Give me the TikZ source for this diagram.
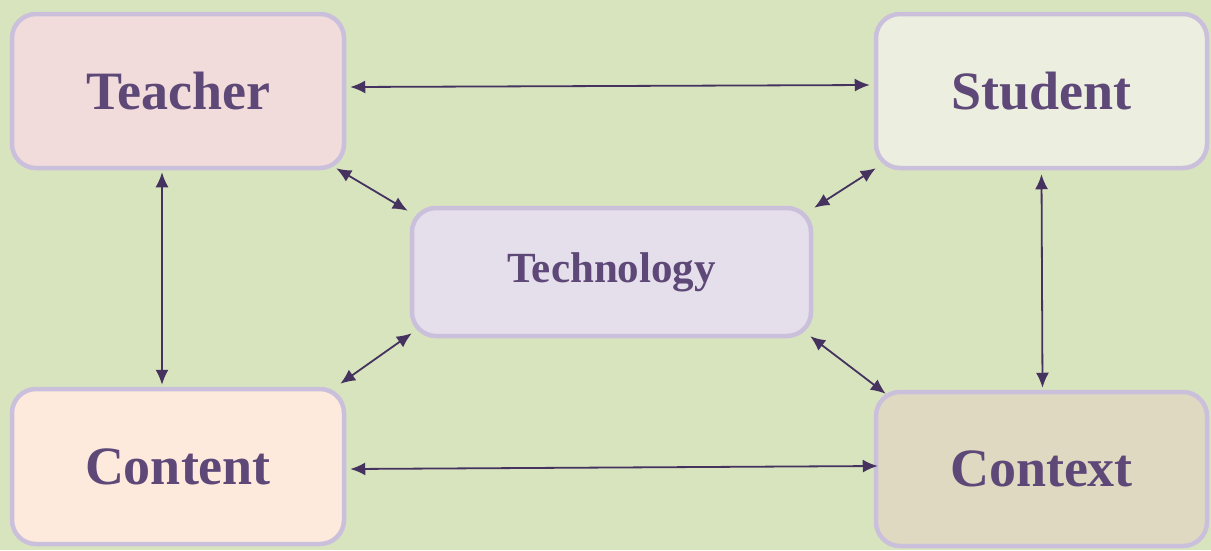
\documentclass[tikz,border=0pt]{standalone}
\usepackage{fontspec}
\setmainfont{Liberation Serif}
\usetikzlibrary{arrows.meta}
\definecolor{bg}{HTML}{D7E4BE}
\definecolor{bordc}{HTML}{CBC0DC}
\definecolor{txtc}{HTML}{5E4878}
\definecolor{arrc}{HTML}{45325F}
\definecolor{fteach}{HTML}{F1DCDB}
\definecolor{fstud}{HTML}{ECEFDF}
\definecolor{fcont}{HTML}{FDEADD}
\definecolor{fctx}{HTML}{DFD9C2}
\definecolor{ftech}{HTML}{E5DFEB}
\begin{document}
\begin{tikzpicture}[x=1pt,y=-1pt,
  boxnode/.style={draw=bordc, line width=4.5pt, rounded corners=24pt, inner sep=0pt,
    text=txtc, font=\fontsize{54}{60}\selectfont\bfseries},
  link/.style={draw=arrc, line width=1.8pt, {Latex[length=15pt,width=13pt]}-{Latex[length=15pt,width=13pt]}}
]
\fill[bg] (0,0) rectangle (1211,550);
\useasboundingbox (0,0) rectangle (1211,550);
\node[boxnode, fill=fteach, minimum width=332pt, minimum height=154pt] (teacher) at (178,91) {Teacher};
\node[boxnode, fill=fstud, minimum width=331pt, minimum height=154pt] (student) at (1041.5,91) {Student};
\node[boxnode, fill=fcont, minimum width=332pt, minimum height=155pt] (content) at (178,466.5) {Content};
\node[boxnode, fill=fctx, minimum width=331pt, minimum height=154pt] (context) at (1041.5,469) {Context};
\node[boxnode, fill=ftech, minimum width=399pt, minimum height=128pt, font=\fontsize{43}{50}\selectfont\bfseries] (tech) at (611.5,272) {Technology};
\draw[link] ([shift={(4pt,4pt)}]teacher.east) -- ([shift={(-4pt,6pt)}]student.west);
\draw[link] ([shift={(4pt,-2.5pt)}]content.east) -- ([shift={(4pt,3pt)}]context.west);
\draw[link] ([shift={(-16pt,-2pt)}]teacher.south) -- ([shift={(-16pt,2pt)}]content.north);
\draw[link] ([yshift=-4pt]student.south) -- ([shift={(1pt,2pt)}]context.north);
\draw[link] ([shift={(-10pt,2pt)}]teacher.south east) -- ([shift={(-2pt,-5pt)}]tech.north west);
\draw[link] ([shift={(2pt,2pt)}]student.south west) -- ([shift={(1pt,-2pt)}]tech.north east);
\draw[link] ([shift={(-6pt,3pt)}]content.north east) -- ([shift={(2pt,5pt)}]tech.south west);
\draw[link] ([shift={(-3pt,2pt)}]tech.south east) -- ([shift={(12pt,-4pt)}]context.north west);
\end{tikzpicture}
\end{document}
